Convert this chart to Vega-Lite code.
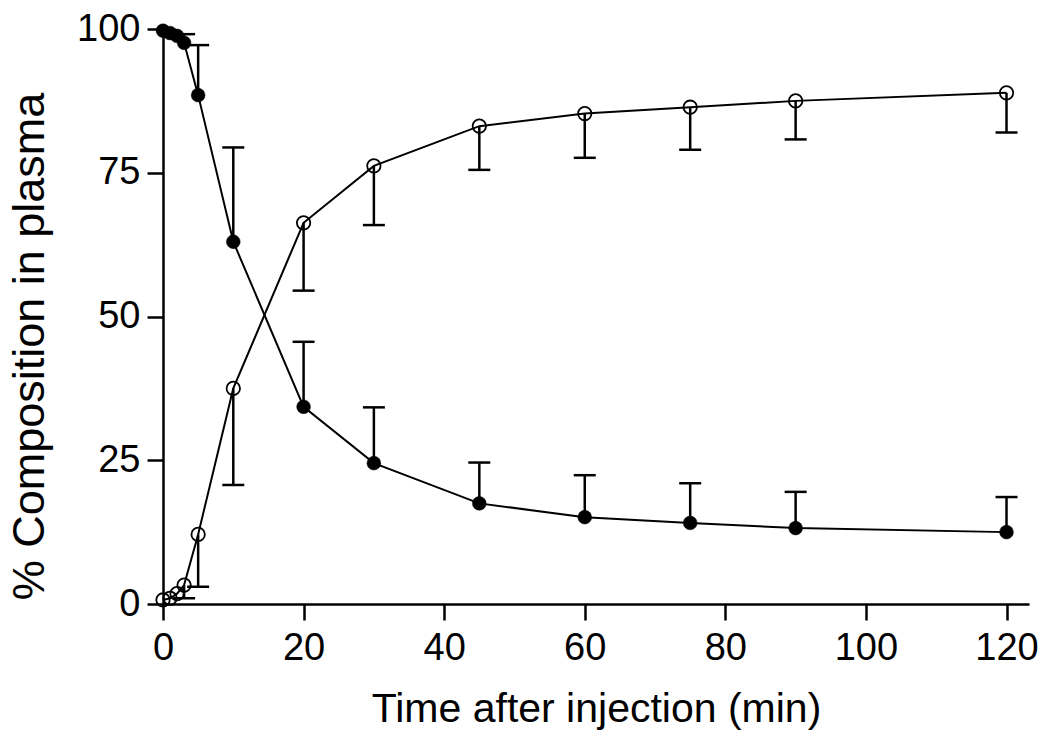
{
  "$schema": "https://vega.github.io/schema/vega-lite/v6.json",
  "width": 866,
  "height": 575,
  "autosize": {"type": "none"},
  "padding": {"left": 163, "top": 29, "right": 21, "bottom": 137},
  "background": "white",
  "config": {
    "view": {"stroke": null},
    "axis": {
      "grid": false,
      "domainColor": "black",
      "domainWidth": 2.5,
      "tickColor": "black",
      "tickWidth": 2.5,
      "tickSize": 16,
      "labelColor": "black",
      "labelFont": "Liberation Sans",
      "labelFontSize": 38,
      "labelFlush": false,
      "labelOverlap": false,
      "titleColor": "black",
      "titleFont": "Liberation Sans",
      "titleFontSize": 41,
      "titleFontWeight": "normal"
    }
  },
  "data": {
    "values": [
      {"series": "parent", "time": 0, "value": 99.7, "bound": null},
      {"series": "parent", "time": 1, "value": 99.3, "bound": null},
      {"series": "parent", "time": 2, "value": 98.8, "bound": null},
      {"series": "parent", "time": 3, "value": 97.6, "bound": 99.1},
      {"series": "parent", "time": 5, "value": 88.5, "bound": 97.2},
      {"series": "parent", "time": 10, "value": 63.0, "bound": 79.4},
      {"series": "parent", "time": 20, "value": 34.3, "bound": 45.6},
      {"series": "parent", "time": 30, "value": 24.5, "bound": 34.2},
      {"series": "parent", "time": 45, "value": 17.5, "bound": 24.6},
      {"series": "parent", "time": 60, "value": 15.1, "bound": 22.4},
      {"series": "parent", "time": 75, "value": 14.1, "bound": 21.0},
      {"series": "parent", "time": 90, "value": 13.2, "bound": 19.5},
      {"series": "parent", "time": 120, "value": 12.5, "bound": 18.6},
      {"series": "metabolite", "time": 0, "value": 0.7, "bound": null},
      {"series": "metabolite", "time": 1, "value": 1.0, "bound": null},
      {"series": "metabolite", "time": 2, "value": 1.8, "bound": null},
      {"series": "metabolite", "time": 3, "value": 3.3, "bound": 1.0},
      {"series": "metabolite", "time": 5, "value": 12.1, "bound": 3.0},
      {"series": "metabolite", "time": 10, "value": 37.5, "bound": 20.7},
      {"series": "metabolite", "time": 20, "value": 66.3, "bound": 54.5},
      {"series": "metabolite", "time": 30, "value": 76.2, "bound": 65.9},
      {"series": "metabolite", "time": 45, "value": 83.1, "bound": 75.5},
      {"series": "metabolite", "time": 60, "value": 85.3, "bound": 77.6},
      {"series": "metabolite", "time": 75, "value": 86.4, "bound": 79.0},
      {"series": "metabolite", "time": 90, "value": 87.5, "bound": 80.8},
      {"series": "metabolite", "time": 120, "value": 88.9, "bound": 82.0}
    ]
  },
  "encoding": {
    "x": {
      "field": "time",
      "type": "quantitative",
      "scale": {"domain": [0, 123.2], "nice": false, "zero": false},
      "axis": {
        "title": "Time after injection (min)",
        "values": [0, 20, 40, 60, 80, 100, 120],
        "labelPadding": 9,
        "titlePadding": 22
      }
    },
    "y": {
      "field": "value",
      "type": "quantitative",
      "scale": {"domain": [0, 100], "nice": false},
      "axis": {
        "title": "% Composition in plasma",
        "values": [0, 25, 50, 75, 100],
        "labelPadding": 7,
        "titlePadding": 24,
        "titleFontSize": 45,
        "titleY": 317
      }
    }
  },
  "layer": [
    {
      "mark": {"type": "line", "color": "black", "strokeWidth": 2},
      "encoding": {"detail": {"field": "series"}}
    },
    {
      "transform": [{"filter": "datum.bound != null"}],
      "mark": {"type": "rule", "color": "black", "strokeWidth": 2.5},
      "encoding": {"y2": {"field": "bound"}}
    },
    {
      "transform": [{"filter": "datum.bound != null"}],
      "mark": {"type": "tick", "orient": "horizontal", "color": "black", "size": 22, "thickness": 2.5, "opacity": 1},
      "encoding": {"y": {"field": "bound", "type": "quantitative"}}
    },
    {
      "transform": [{"filter": "datum.series == 'metabolite'"}],
      "mark": {"type": "point", "shape": "circle", "size": 180, "filled": false, "stroke": "black", "strokeWidth": 1.8, "fill": "transparent", "opacity": 1}
    },
    {
      "transform": [{"filter": "datum.series == 'parent'"}],
      "mark": {"type": "point", "shape": "circle", "size": 190, "filled": true, "fill": "black", "stroke": "black", "strokeWidth": 0.5, "opacity": 1}
    }
  ]
}
